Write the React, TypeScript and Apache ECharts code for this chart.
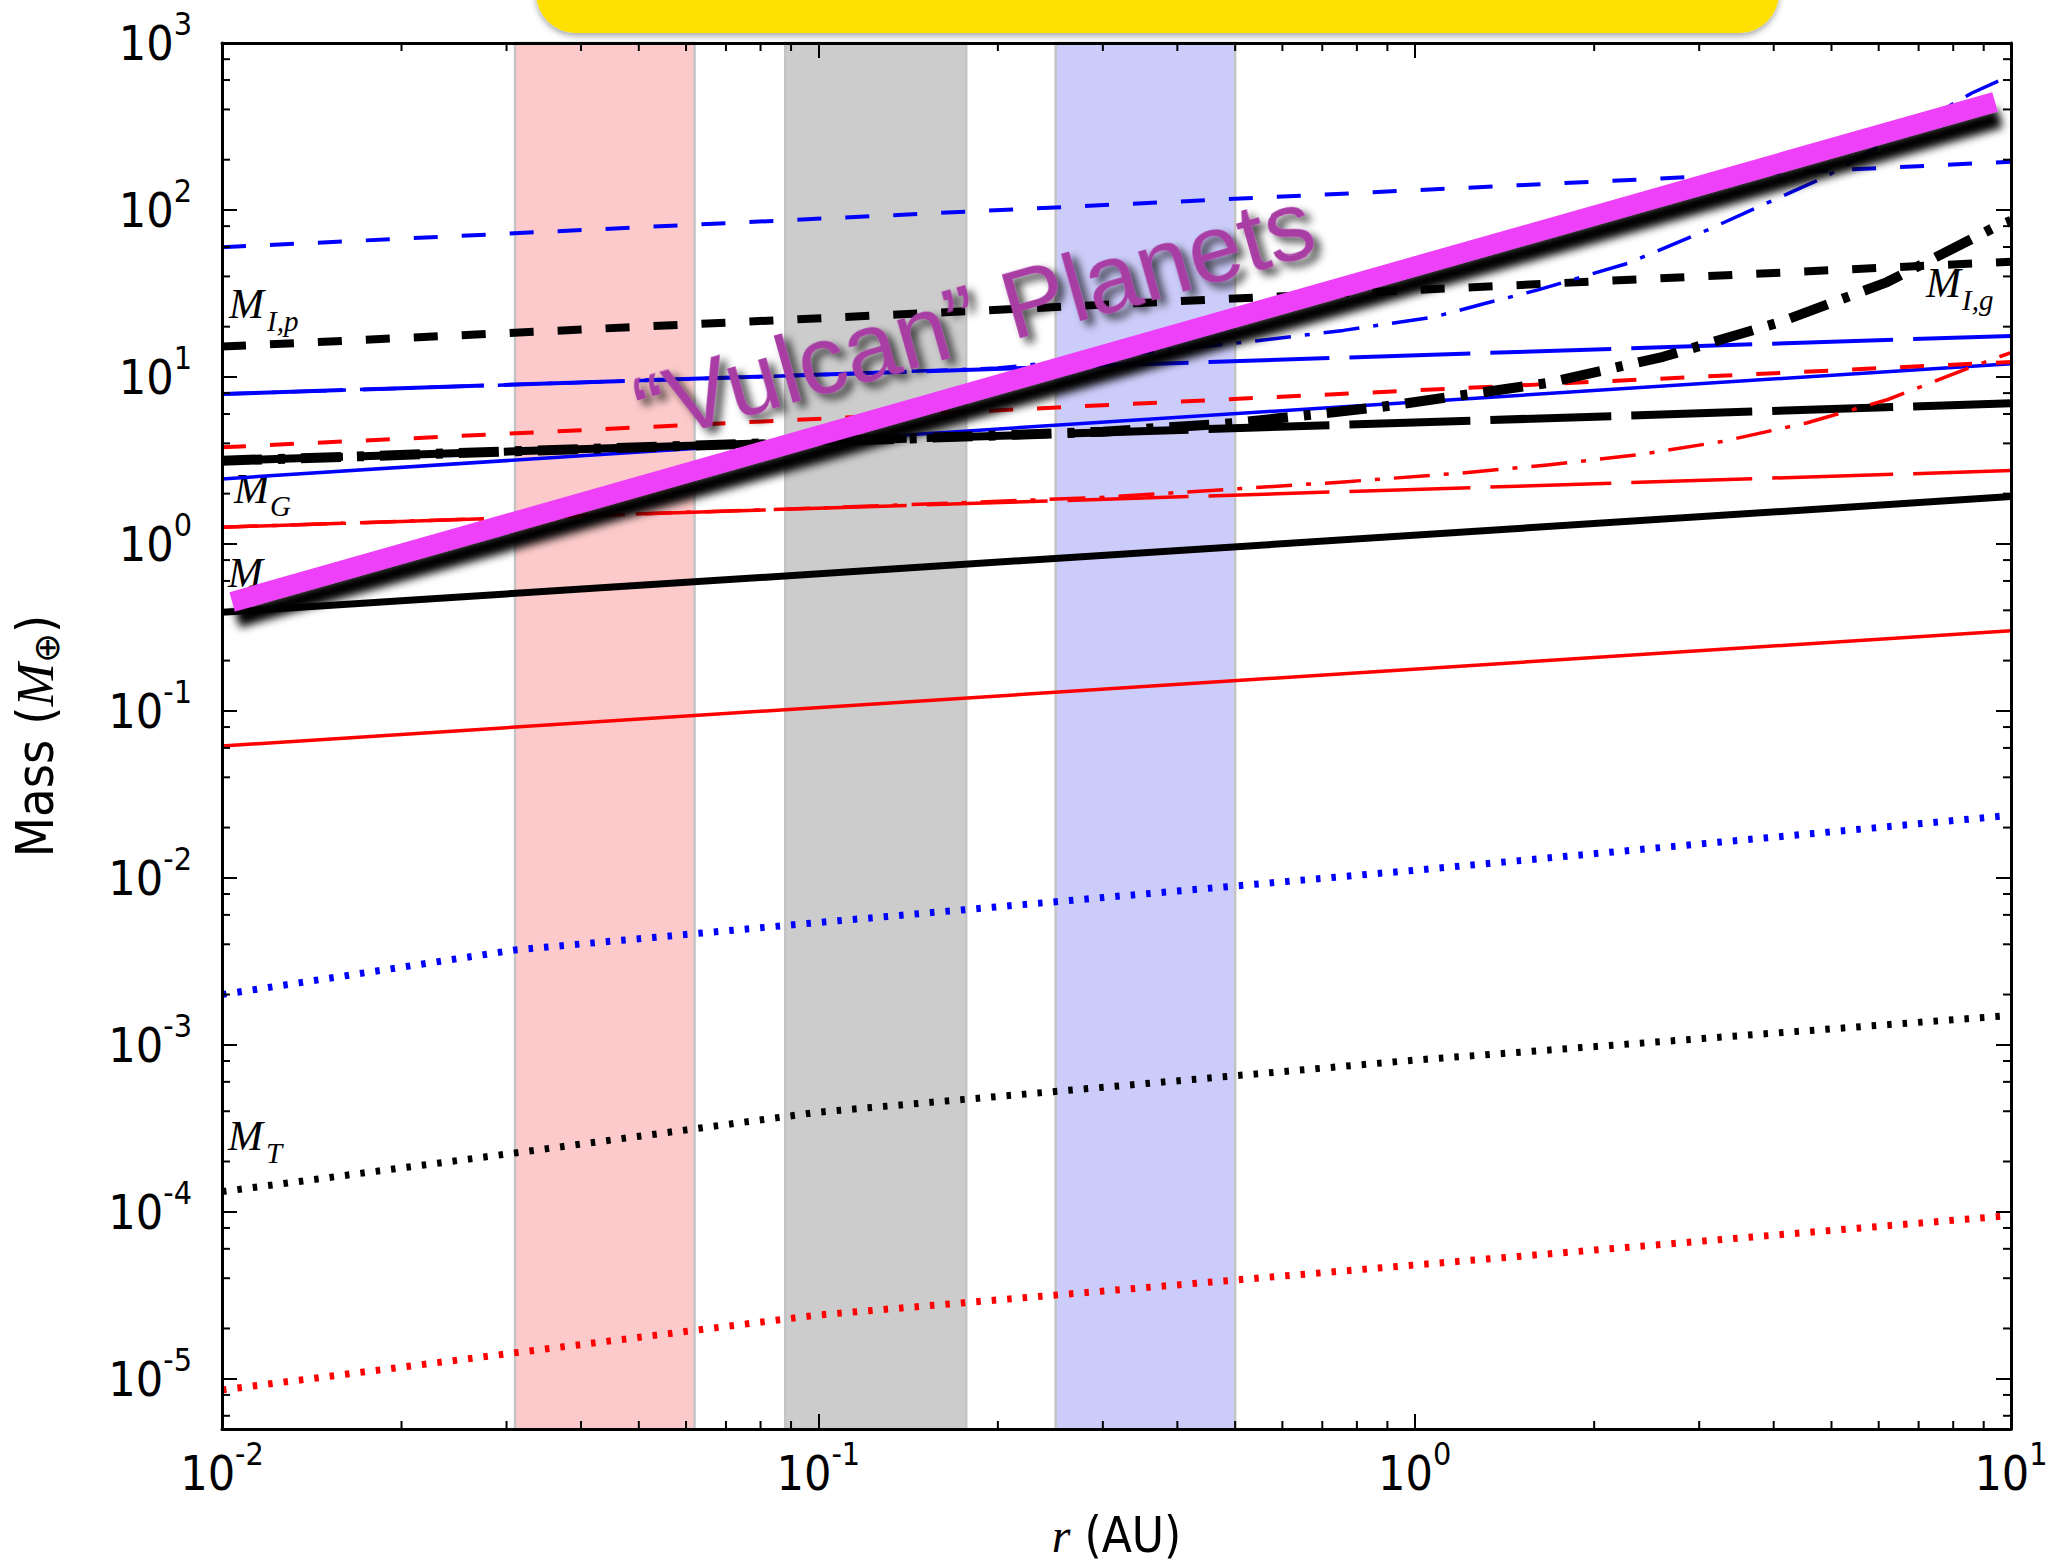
import React, { useEffect, useRef } from "react";
import * as echarts from "echarts";

const W = 2052;
const H = 1566;

const X_MIN = 0.01;
const X_MAX = 10;
const Y_MIN = 5e-6;
const Y_MAX = 1000;

// straight power-law lines: values at r = 0.01 and r = 10 AU
const rEnds = [0.01, 10];
const blueDashed = [59.8, 194.5];
const blackDashedIp = [15.2, 49];
const blueLongDash = [7.9, 17.6];
const redDashed = [3.79, 12.3];
const blackLongDash = [3.15, 6.95];
const blueSolid = [2.45, 12.0];
const redLongDash = [1.26, 2.75];
const blackSolid = [0.389, 1.92];
const redSolid = [0.0616, 0.302];

// dotted curves
const rDotted = [0.01, 0.031, 0.1, 1, 10];
const blueDotted = [0.002, 0.0037, 0.0054, 0.0111, 0.0237];
const blackDotted = [1.32e-4, 2.25e-4, 3.95e-4, 8.1e-4, 1.5e-3];
const redDotted = [8.57e-6, 1.43e-5, 2.41e-5, 4.8e-5, 9.5e-5];

// dash-dot curves
const rBlueDashDot = [0.01, 0.1, 0.2, 0.42, 0.54, 0.76, 1.08, 1.32, 1.61, 2.28, 3.1, 3.83, 4.87, 5.98, 8.6, 10];
const blueDashDot = [7.9, 10.3, 11.3, 14.9, 16.4, 19.0, 22.9, 27.7, 33.2, 48, 76, 107, 157, 238, 502, 640];
const rBlackDashDot = [0.01, 0.1, 0.3, 0.5, 0.875, 1.21, 1.67, 2.61, 4.1, 6.2, 9.4, 10];
const blackDashDot = [3.15, 4.1, 4.7, 5.3, 6.6, 7.8, 9.2, 13.2, 21.3, 37, 79, 86];
const rRedDashDot = [0.01, 0.1, 0.3, 0.76, 1.2, 1.67, 2.36, 3.27, 4.54, 6.2, 8.6, 10];
const redDashDot = [1.26, 1.64, 1.9, 2.35, 2.66, 2.97, 3.41, 4.1, 5.3, 7.3, 11.5, 14];

// "Vulcan" planets band line
const rVulcan = [0.0104, 9.4];
const mVulcan = [0.45, 444];

// shaded radial zones (AU)
const bandPink = [0.031, 0.062];
const bandGray = [0.088, 0.177];
const bandBlue = [0.25, 0.5];

// minor tick positions
const xMinorTicks = [
  0.02, 0.03, 0.04, 0.05, 0.06, 0.07, 0.08, 0.09,
  0.2, 0.3, 0.4, 0.5, 0.6, 0.7, 0.8, 0.9,
  2, 3, 4, 5, 6, 7, 8, 9,
];
const yMinorTicks = [
  6e-6, 8e-6,
  2e-5, 4e-5, 6e-5, 8e-5,
  2e-4, 4e-4, 6e-4, 8e-4,
  2e-3, 4e-3, 6e-3, 8e-3,
  2e-2, 4e-2, 6e-2, 8e-2,
  0.2, 0.4, 0.6, 0.8,
  2, 4, 6, 8,
  20, 40, 60, 80,
  200, 400, 600, 800,
];

const pairs = (rs: number[], ms: number[]) => rs.map((r, i) => [r, ms[i]]);

const lineSeries = (
  name: string,
  rs: number[],
  ms: number[],
  color: string,
  width: number,
  type: any,
  z: number
) => ({
  type: "line",
  name,
  data: pairs(rs, ms),
  showSymbol: false,
  symbol: "none",
  silent: true,
  animation: false,
  clip: true,
  lineStyle: { color, width, type, cap: "butt", join: "round" },
  z,
});

const tickFmt = (v: number) => {
  const e = Math.log10(v);
  const k = Math.round(e);
  if (Math.abs(e - k) > 1e-6) return "";
  return `{b|10}{s|${k}}`;
};

const SANS = "'DejaVu Sans Condensed', 'DejaVu Sans', sans-serif";

const tickRich = {
  b: { fontSize: 48, fontFamily: SANS, color: "#000", lineHeight: 70 },
  s: { fontSize: 32, fontFamily: SANS, color: "#000", lineHeight: 34, verticalAlign: "top" },
};

const SHORT = [24, 24];
const LONG = [121, 20];
const DOT = [4.5, 11];
const DASHDOT = [36, 14, 5, 14];
const DASHDOT_THICK = [40, 16, 7, 16];

const mathLabel = (x: number, base: number, main: string, sub: string, subDx: number) => {
  const children: any[] = [
    {
      type: "text",
      x,
      y: base - 14,
      style: {
        text: main,
        fontFamily: "Liberation Serif",
        fontStyle: "italic",
        fontSize: 42,
        fill: "#000",
        align: "left",
        verticalAlign: "middle",
      },
    },
  ];
  if (sub) {
    children.push({
      type: "text",
      x: x + subDx,
      y: base + 12 - 9.5,
      style: {
        text: sub,
        fontFamily: "Liberation Serif",
        fontStyle: "italic",
        fontSize: 29,
        fill: "#000",
        align: "left",
        verticalAlign: "middle",
      },
    });
  }
  return { type: "group", z: 40, children };
};

const makeOption = () => {
  const axisLineStyle = { show: true, onZero: false, lineStyle: { color: "#000", width: 3 } };
  const majorTick = { show: true, inside: true, length: 15, lineStyle: { color: "#000", width: 2 } };

  const bandArea = (b: number[], color: string) => [
    { xAxis: b[0], yAxis: Y_MIN, itemStyle: { color, borderColor: "#C4C4C4", borderWidth: 2.5 } },
    { xAxis: b[1], yAxis: Y_MAX },
  ];

  return {
    animation: false,
    backgroundColor: "#fff",
    grid: { left: 222, top: 43, width: 1789, height: 1386, containLabel: false, outerBoundsMode: "none" },
    xAxis: [
      {
        type: "log",
        logBase: 10,
        min: X_MIN,
        max: X_MAX,
        position: "bottom",
        z: 10,
        axisLine: axisLineStyle,
        axisTick: majorTick,
        splitLine: { show: false },
        minorTick: { show: false },
        axisLabel: { show: true, margin: 9, formatter: tickFmt, rich: tickRich },
        name: "{i|r}{t| (AU)}",
        nameLocation: "middle",
        nameGap: 80,
        nameTextStyle: {
          rich: {
            i: { fontFamily: "Liberation Serif", fontStyle: "italic", fontSize: 48, color: "#000", lineHeight: 52 },
            t: { fontFamily: SANS, fontSize: 49, color: "#000", lineHeight: 52 },
          },
        },
      },
      {
        type: "log",
        logBase: 10,
        min: X_MIN,
        max: X_MAX,
        position: "top",
        z: 10,
        axisLine: axisLineStyle,
        axisTick: majorTick,
        splitLine: { show: false },
        axisLabel: { show: false },
      },
    ],
    yAxis: [
      {
        type: "log",
        logBase: 10,
        min: Y_MIN,
        max: Y_MAX,
        position: "left",
        z: 10,
        axisLine: axisLineStyle,
        axisTick: majorTick,
        splitLine: { show: false },
        minorTick: { show: false },
        axisLabel: { show: true, margin: 30, formatter: tickFmt, rich: tickRich },
        name: "{t|Mass (}{m|M}{o|⊕}{t|)}",
        nameLocation: "middle",
        nameGap: 158,
        nameRotate: 90,
        nameTextStyle: {
          rich: {
            t: { fontFamily: SANS, fontSize: 52, color: "#000", lineHeight: 58 },
            m: { fontFamily: "Liberation Serif", fontStyle: "italic", fontSize: 52, color: "#000", lineHeight: 58 },
            o: { fontFamily: "DejaVu Sans", fontSize: 36, color: "#000", lineHeight: 44, verticalAlign: "bottom" },
          },
        },
      },
      {
        type: "log",
        logBase: 10,
        min: Y_MIN,
        max: Y_MAX,
        position: "right",
        z: 10,
        axisLine: axisLineStyle,
        axisTick: majorTick,
        splitLine: { show: false },
        axisLabel: { show: false },
      },
    ],
    series: [
      {
        type: "line",
        name: "bands",
        data: pairs(rEnds, [1, 1]),
        showSymbol: false,
        symbol: "none",
        silent: true,
        lineStyle: { opacity: 0 },
        z: 1,
        markArea: {
          silent: true,
          data: [bandArea(bandPink, "#FCCACA"), bandArea(bandGray, "#CCCCCC"), bandArea(bandBlue, "#CCCCFA")],
        },
      },
      lineSeries("redDotted", rDotted, redDotted, "#FF0000", 7, DOT, 3),
      lineSeries("blackDotted", rDotted, blackDotted, "#000000", 7, DOT, 3),
      lineSeries("blueDotted", rDotted, blueDotted, "#0000FF", 7, DOT, 3),
      lineSeries("redSolid", rEnds, redSolid, "#FF0000", 3.5, "solid", 3),
      lineSeries("blackSolid", rEnds, blackSolid, "#000000", 7, "solid", 3),
      lineSeries("redLongDash", rEnds, redLongDash, "#FF0000", 3.5, LONG, 3),
      lineSeries("blueSolid", rEnds, blueSolid, "#0000FF", 3.5, "solid", 3),
      lineSeries("redDashed", rEnds, redDashed, "#FF0000", 4, SHORT, 3),
      lineSeries("blueLongDash", rEnds, blueLongDash, "#0000FF", 4, LONG, 3),
      lineSeries("blackLongDash", rEnds, blackLongDash, "#000000", 8, LONG, 3),
      lineSeries("blackDashedIp", rEnds, blackDashedIp, "#000000", 8, SHORT, 3),
      lineSeries("blueDashed", rEnds, blueDashed, "#0000FF", 4, SHORT, 3),
      lineSeries("redDashDot", rRedDashDot, redDashDot, "#FF0000", 3.5, DASHDOT, 4),
      lineSeries("blueDashDot", rBlueDashDot, blueDashDot, "#0000FF", 3.5, DASHDOT, 4),
      lineSeries("blackDashDot", rBlackDashDot, blackDashDot, "#000000", 10, DASHDOT_THICK, 5),
      {
        type: "line",
        name: "vulcan",
        data: pairs(rVulcan, mVulcan),
        showSymbol: false,
        symbol: "none",
        silent: true,
        z: 6,
        lineStyle: {
          color: "#EE3FF8",
          width: 20,
          cap: "butt",
          shadowColor: "rgba(0,0,0,1)",
          shadowBlur: 8,
          shadowOffsetX: 5,
          shadowOffsetY: 16,
        },
      },
      {
        type: "custom",
        name: "xMinor",
        coordinateSystem: "cartesian2d",
        silent: true,
        z: 10,
        data: xMinorTicks.map((v) => [v, Y_MIN]),
        renderItem: (params: any, api: any) => {
          const v = api.value(0);
          const b = api.coord([v, Y_MIN]);
          const t = api.coord([v, Y_MAX]);
          return {
            type: "group",
            children: [
              { type: "line", shape: { x1: b[0], y1: b[1], x2: b[0], y2: b[1] - 8 }, style: { stroke: "#000", lineWidth: 2 } },
              { type: "line", shape: { x1: t[0], y1: t[1], x2: t[0], y2: t[1] + 8 }, style: { stroke: "#000", lineWidth: 2 } },
            ],
          };
        },
      },
      {
        type: "custom",
        name: "yMinor",
        coordinateSystem: "cartesian2d",
        silent: true,
        z: 10,
        data: yMinorTicks.map((v) => [X_MIN, v]),
        renderItem: (params: any, api: any) => {
          const v = api.value(1);
          const l = api.coord([X_MIN, v]);
          const r = api.coord([X_MAX, v]);
          return {
            type: "group",
            children: [
              { type: "line", shape: { x1: l[0], y1: l[1], x2: l[0] + 8, y2: l[1] }, style: { stroke: "#000", lineWidth: 2 } },
              { type: "line", shape: { x1: r[0], y1: r[1], x2: r[0] - 8, y2: r[1] }, style: { stroke: "#000", lineWidth: 2 } },
            ],
          };
        },
      },
    ],
    graphic: [
      {
        type: "rect",
        z: 50,
        shape: { x: 536, y: -60, width: 1243, height: 93, r: 40 },
        style: { fill: "#FFE000", shadowBlur: 6, shadowOffsetY: 3, shadowColor: "rgba(0,0,0,0.35)" },
      },
      mathLabel(229, 318, "M", "I,p", 38),
      mathLabel(234, 503, "M", "G", 36),
      mathLabel(228, 587, "M", "", 0),
      mathLabel(228, 1150, "M", "T", 38),
      mathLabel(1926, 297, "M", "I,g", 36),
      {
        type: "text",
        z: 60,
        x: 974,
        y: 316,
        rotation: (15.9 * Math.PI) / 180,
        style: {
          text: "\u201CVulcan\u201D Planets",
          fontFamily: "Liberation Sans",
          fontSize: 96,
          fill: "#A83CA4",
          align: "center",
          verticalAlign: "middle",
          textShadowColor: "rgba(0,0,0,0.75)",
          textShadowBlur: 8,
          textShadowOffsetX: 5,
          textShadowOffsetY: 7,
          shadowColor: "rgba(0,0,0,0.75)",
          shadowBlur: 8,
          shadowOffsetX: 5,
          shadowOffsetY: 7,
        },
      },
    ],
  };
};

export default function App() {
  const ref = useRef<HTMLDivElement>(null);
  useEffect(() => {
    if (!ref.current) return;
    const chart = echarts.init(ref.current, null, { renderer: "svg", width: W, height: H });
    chart.setOption(makeOption() as any);
    return () => chart.dispose();
  }, []);
  return (
    <div
      ref={ref}
      style={{ position: "absolute", left: 0, top: 0, width: W, height: H, background: "#fff" }}
    />
  );
}
